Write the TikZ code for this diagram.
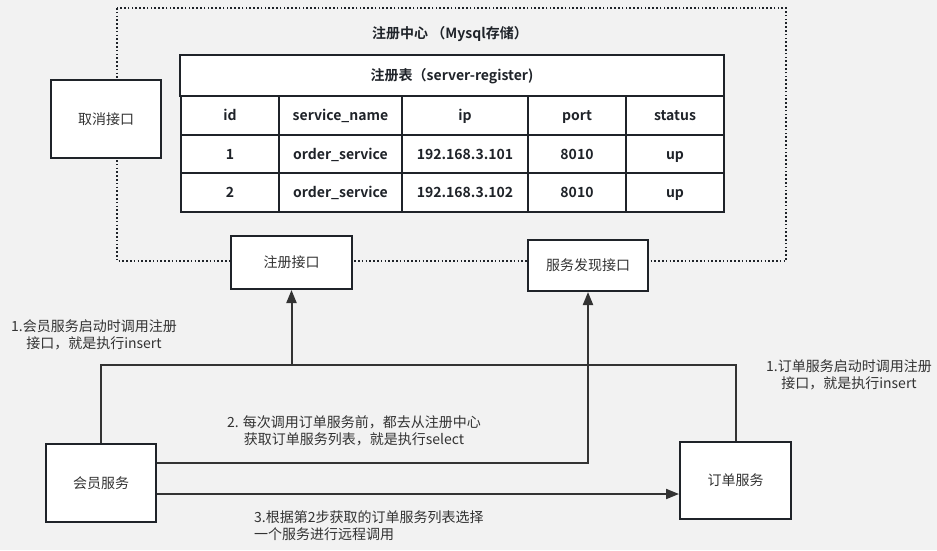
\documentclass[tikz,border=0pt]{standalone}
\usepackage{fontspec}
\setmainfont{Noto Sans CJK SC}[BoldFont={Noto Sans CJK SC Bold}]
\usetikzlibrary{arrows.meta}
\definecolor{bg}{HTML}{F2F2F2}
\definecolor{edge}{HTML}{1F2329}
\definecolor{wire}{HTML}{333333}
\definecolor{txt}{HTML}{333333}
\begin{document}
\begin{tikzpicture}[x=1pt,y=-1pt,
  box/.style={draw=edge,line width=2pt,fill=white,inner sep=0pt,font=\fontsize{14}{17}\selectfont,text=txt},
  cell/.style={draw=edge,line width=2pt,fill=white,inner sep=0pt,font=\fontsize{14}{17}\selectfont\bfseries,text=edge},
  ctext/.style={font=\fontsize{14}{17}\selectfont\bfseries,text=edge,anchor=base,yshift=-5pt,inner sep=0pt},
  lbl/.style={align=center,inner sep=0pt,font=\fontsize{14}{17}\selectfont,text=txt},
  conn/.style={draw=wire,line width=2pt},
  tip/.style={-{Triangle[length=13pt,width=10pt]}}
]
\fill[bg] (0,0) rectangle (937,550);
\useasboundingbox (0,0) rectangle (937,550);

% registry center dotted frame
\draw[edge,line width=1.6pt,dash pattern=on 1.6pt off 2.2pt] (117,8) rectangle (786,261);
\node[font=\fontsize{14}{17}\selectfont\bfseries,text=edge,inner sep=0pt] (title) at (450,34) {注册中心 （Mysql存储）};

% table header
\node[cell,minimum width=544pt,minimum height=41pt] (thead) at (452,75.5) {};
\node[ctext] (theadtext) at (thead) {注册表（server-register)};

% table cells
\foreach \cx/\w/\col [count=\ci] in {230/98/a,340.5/123/b,465/126/c,577/98/d,675/98/e}{
  \foreach \cy/\h/\row [count=\ri] in {115.5/39/0,154/38/1,192.5/39/2}{
    \node[cell,minimum width=\w pt,minimum height=\h pt] (c\row\col) at (\cx,\cy) {};
  }
}
\node[ctext] (t0a) at (c0a) {id};
\node[ctext] (t0b) at (c0b) {service\_name};
\node[ctext] (t0c) at (c0c) {ip};
\node[ctext] (t0d) at (c0d) {port};
\node[ctext] (t0e) at (c0e) {status};
\node[ctext] (t1a) at (c1a) {1};
\node[ctext] (t1b) at (c1b) {order\_service};
\node[ctext] (t1c) at (c1c) {192.168.3.101};
\node[ctext] (t1d) at (c1d) {8010};
\node[ctext] (t1e) at (c1e) {up};
\node[ctext] (t2a) at (c2a) {2};
\node[ctext] (t2b) at (c2b) {order\_service};
\node[ctext] (t2c) at (c2c) {192.168.3.102};
\node[ctext] (t2d) at (c2d) {8010};
\node[ctext] (t2e) at (c2e) {up};

% boxes
\node[box,minimum width=110pt,minimum height=78pt] (cancel) at (106,119) {取消接口};
\node[box,minimum width=121pt,minimum height=53pt] (reg) at (291.5,262.5) {注册接口};
\node[box,minimum width=120pt,minimum height=51pt] (disc) at (588,265.5) {服务发现接口};
\node[box,minimum width=110pt,minimum height=78pt] (member) at (101,483) {会员服务};
\node[box,minimum width=111pt,minimum height=77pt] (order) at (735.5,480.5) {订单服务};

% connectors
\coordinate (m1) at (291.5,365);
\draw[conn] (order.north) |- (m1);
\draw[conn,tip] (member.north) |- (m1) -- (reg.south);
\draw[conn,tip] ([yshift=20pt]member.east) -| (disc.south);
\draw[conn,tip] ([yshift=-11pt]member.east) -- ([yshift=-11pt]member.east -| order.west);

% labels
\node[lbl] (l1) at (94,335) {1.会员服务启动时调用注册\\接口，就是执行insert};
\node[lbl] (l2) at (354,431) {2. 每次调用订单服务前，都去从注册中心\\获取订单服务列表，就是执行select};
\node[lbl,align=left,anchor=west] (l3) at (254,526) {3.根据第2步获取的订单服务列表选择\\一个服务进行远程调用};
\node[lbl] (l4) at (849,375) {1.订单服务启动时调用注册\\接口，就是执行insert};
\end{tikzpicture}
\end{document}
